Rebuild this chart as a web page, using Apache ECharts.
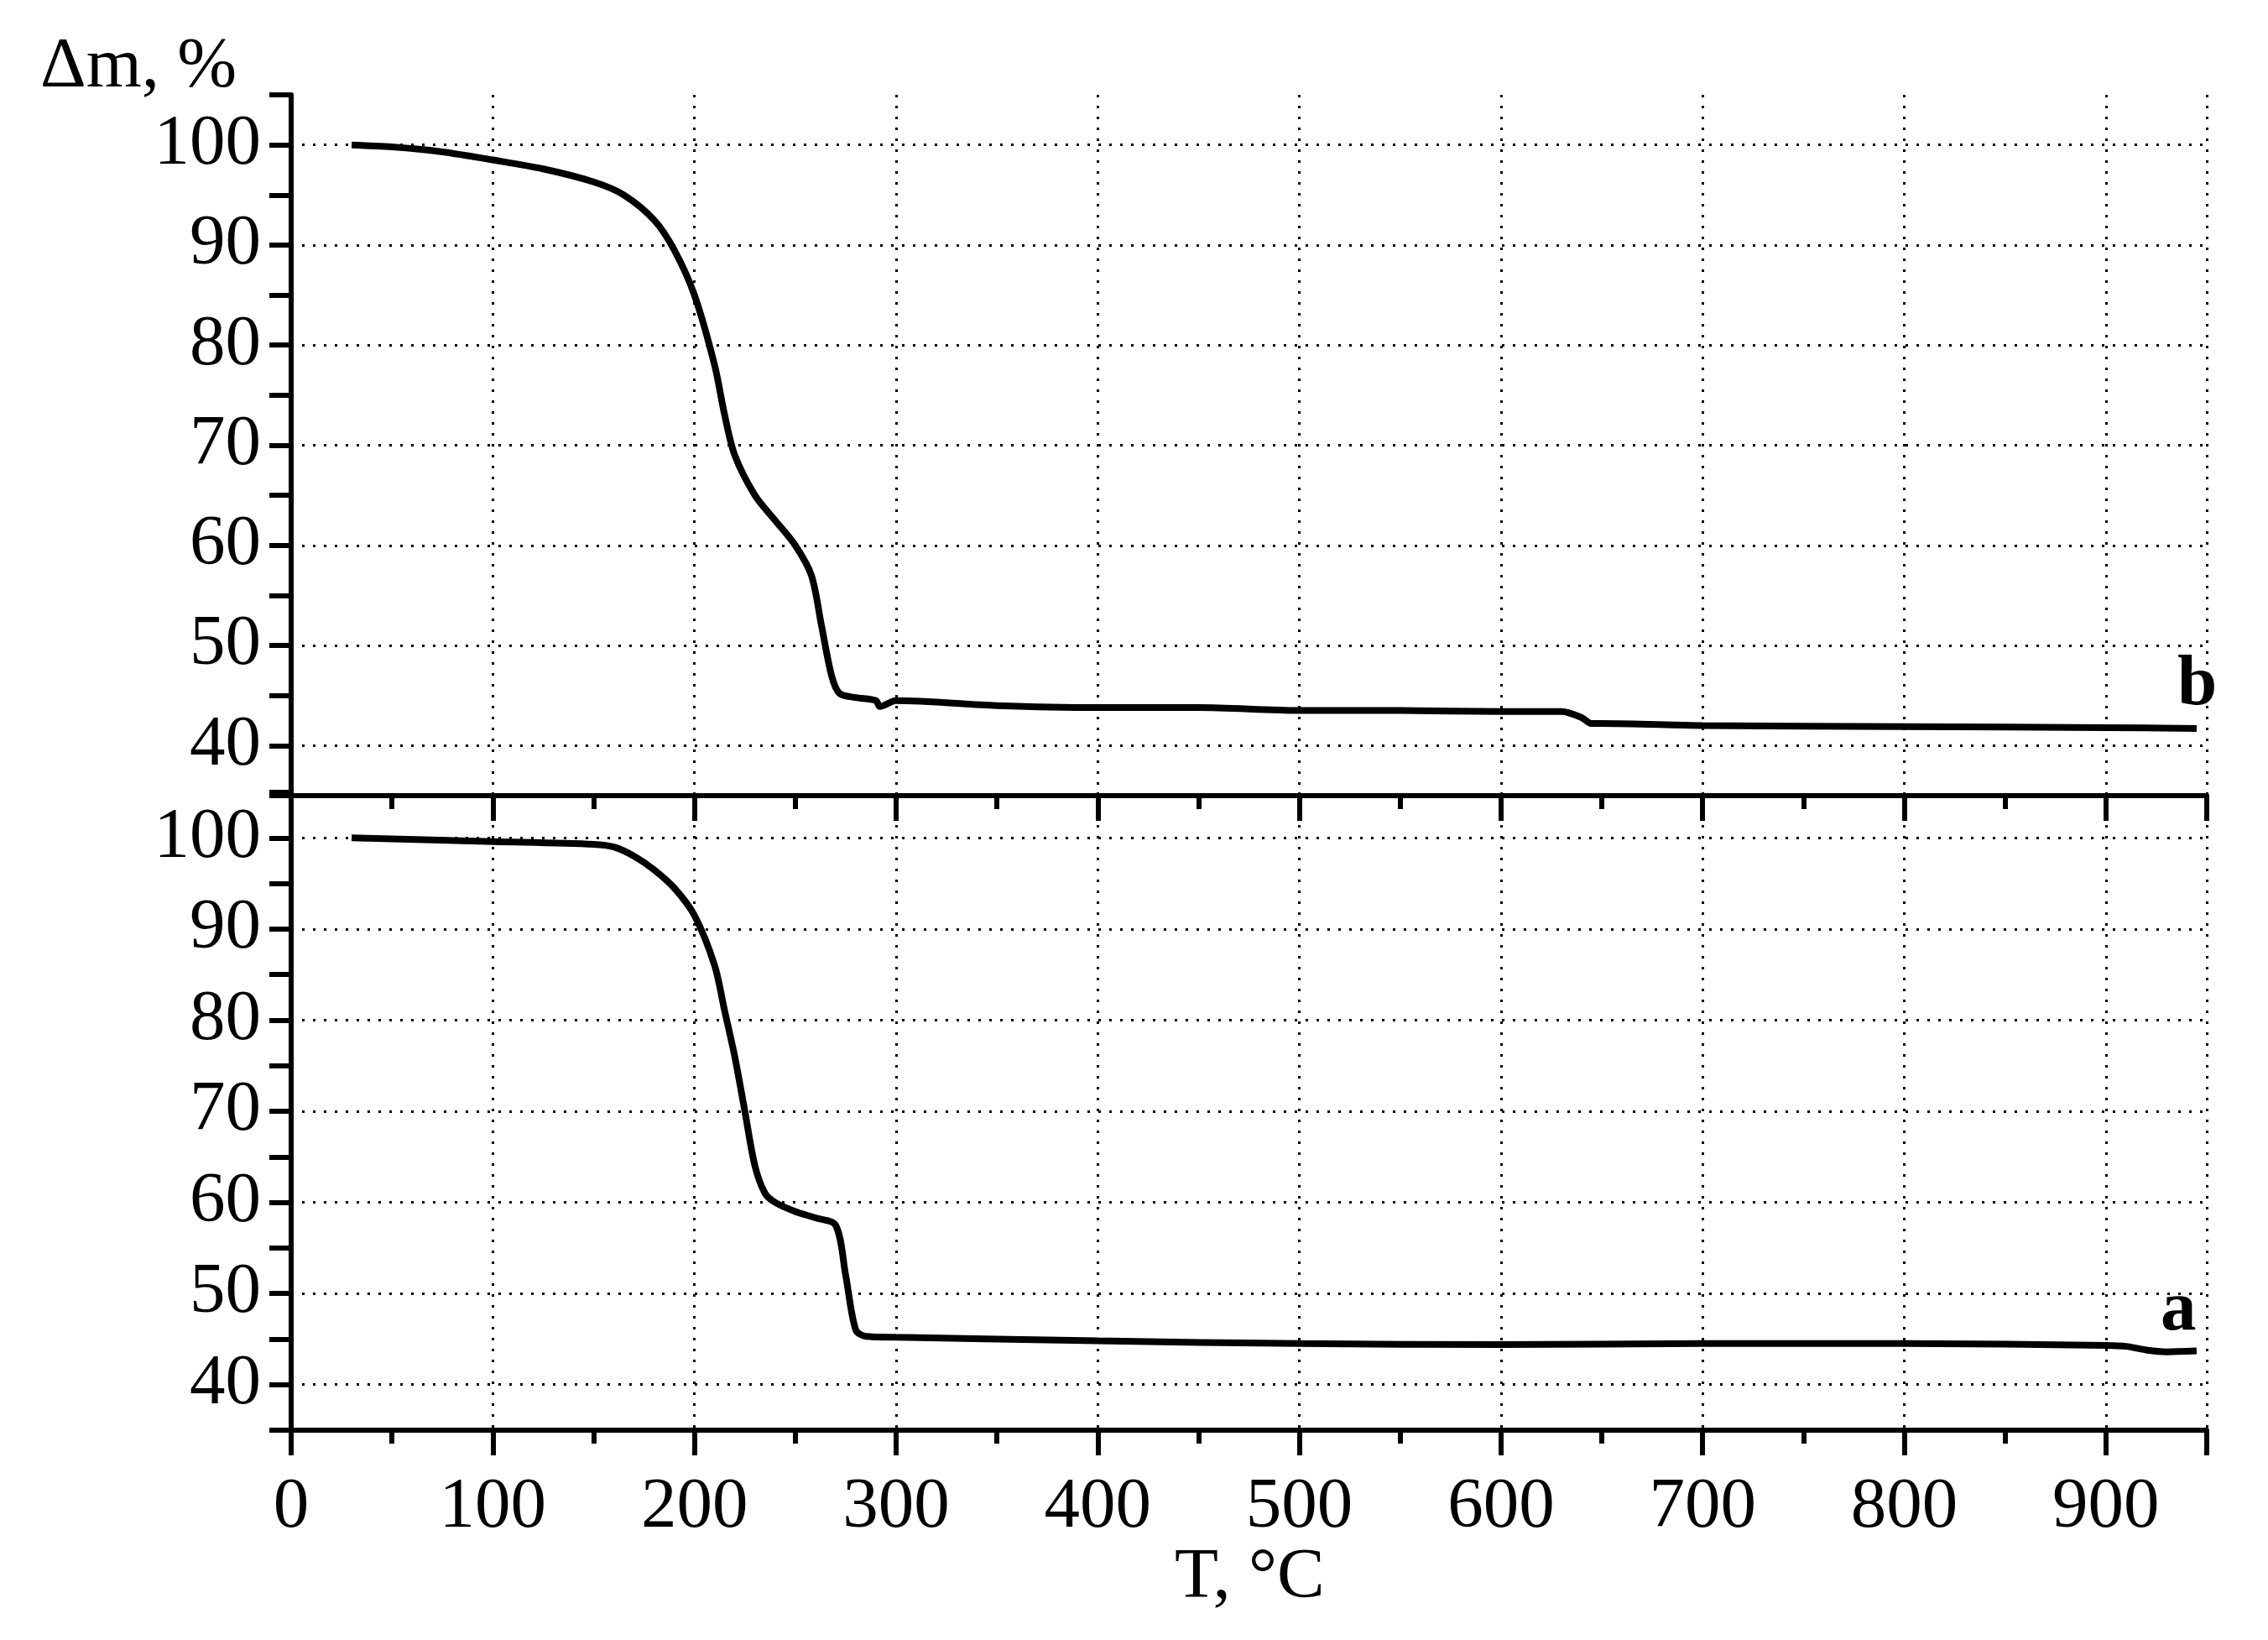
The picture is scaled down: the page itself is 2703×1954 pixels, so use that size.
<!DOCTYPE html>
<html><head><meta charset="utf-8">
<script src="https://cdn.jsdelivr.net/npm/echarts@6/dist/echarts.min.js"></script>
<style>html,body{margin:0;background:#fff}#c{width:2703px;height:1954px}</style>
</head><body><div id="c"></div>
<script>
const bT=[30,50,75,100,125,150,165,180,190,200,210,215,220,230,240,250,258,263,268,272,280,290,292,300,350,400,450,500,550,600,630,640,645,650,700,800,900,945];
const bM=[100,99.8,99.3,98.5,97.6,96.3,95,92.5,89.5,85,78,73,69,65,62.5,60,57,52,47,45.2,44.8,44.5,43.9,44.5,44,43.8,43.8,43.5,43.5,43.4,43.4,42.8,42.2,42.2,42,41.9,41.8,41.7];
const aT=[30,100,150,160,170,180,190,200,210,215,220,225,230,235,240,250,260,270,275,280,285,300,400,500,600,700,800,900,910,920,930,945];
const aM=[100,99.6,99.3,99,98,96.5,94.5,91.5,86,81,76,70,64,61,60,59,58.3,57.5,52,46,45.3,45.2,44.8,44.5,44.4,44.5,44.5,44.3,44.2,43.8,43.6,43.7];
const yTicks=[40,50,60,70,80,90,100];
const font='Liberation Serif';
const pair=(t,m)=>t.map((v,i)=>[v,m[i]]);
function xAx(idx,labels){return {type:'value',gridIndex:idx,min:0,max:950,interval:100,
 axisLine:{show:true,lineStyle:{color:'#000',width:6}},
 axisTick:{show:true,length:30,lineStyle:{width:6,color:'#000'}},
 minorTick:{show:true,splitNumber:2,length:16,lineStyle:{width:6,color:'#000'}},
 axisLabel:{show:labels,fontFamily:font,fontSize:85,color:'#000',margin:50},
 splitLine:{show:true,lineStyle:{type:[3,10],width:3,color:'#000'}}};}
function yAx(idx){return {type:'value',gridIndex:idx,min:35,max:105,interval:5,
 axisLine:{show:true,lineStyle:{color:'#000',width:6}},
 axisTick:{show:true,length:26,lineStyle:{width:6,color:'#000'}},
 axisLabel:{fontFamily:font,fontSize:85,color:'#000',margin:36,
   formatter:v=>yTicks.includes(v)?String(v):''},
 splitLine:{show:false}};}
function ser(idx,d){return {type:'line',xAxisIndex:idx,yAxisIndex:idx,data:d,symbol:'none',smooth:0.3,
 lineStyle:{color:'#000',width:8},
 markLine:{silent:true,symbol:'none',label:{show:false},
   lineStyle:{type:[3,10],width:3,color:'#000'},data:yTicks.map(v=>({yAxis:v}))}};}
const ch=echarts.init(document.getElementById('c'));
ch.setOption({animation:false,backgroundColor:'#fff',
 grid:[{left:347,right:73,top:113,height:835},{left:347,right:73,top:944,height:760}],
 xAxis:[xAx(0,false),xAx(1,true)],yAxis:[yAx(0),yAx(1)],
 series:[ser(0,pair(bT,bM)),ser(1,pair(aT,aM))],
 graphic:[
  {type:'text',left:48,top:38,style:{text:'Δm, %',font:'85px "Liberation Serif"',fill:'#000'}},
  {type:'text',left:1400,top:1838,style:{text:'T, °C',font:'85px "Liberation Serif"',fill:'#000'}},
  {type:'text',left:2595,top:775,style:{text:'b',font:'bold 85px "Liberation Serif"',fill:'#000'}},
  {type:'text',left:2575,top:1520,style:{text:'a',font:'bold 85px "Liberation Serif"',fill:'#000'}}
 ]});
</script></body></html>
